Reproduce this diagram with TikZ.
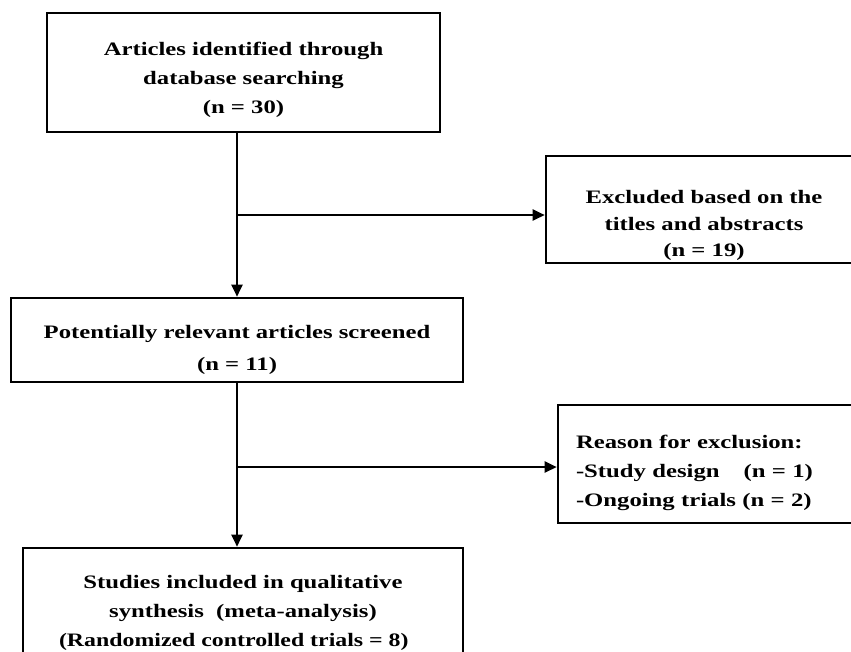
\documentclass[tikz,border=0pt]{standalone}
\usepackage{fontspec}
\setmainfont[FakeStretch=1.3]{Liberation Serif}
\newfontfamily\narrowserif[FakeStretch=1.255]{Liberation Serif}
\usetikzlibrary{arrows.meta}
\begin{document}
\begin{tikzpicture}[x=1pt,y=-1pt,
  box/.style={draw, line width=2.6pt, align=center, inner sep=0pt,
    font=\fontsize{19}{29}\selectfont\bfseries},
  flow/.style={line width=2.4pt, -{Triangle[length=12pt,width=11pt]}}]
\useasboundingbox (0,0) rectangle (851,651);
\clip (0,0) rectangle (851,651);
\node[box, minimum width=393pt, minimum height=119pt] (b1) at (243.5,72.5)
  {\rule{0pt}{29pt}Articles identified through\\database searching\\(n = 30)};
\node[box, minimum width=316pt, minimum height=107pt,
  font=\fontsize{19}{26.5}\selectfont\bfseries] (b2) at (704,209.5)
  {\rule{0pt}{46pt}Excluded based on the\\titles and abstracts\\(n = 19)};
\node[box, minimum width=452pt, minimum height=84pt,
  font=\fontsize{19}{32}\selectfont\bfseries] (b3) at (237,340)
  {\rule{0pt}{33pt}Potentially relevant articles screened\\(n = 11)};
\node[box, align=left, text width=280pt, inner xsep=18pt, minimum height=118pt] (b4) at (716,464)
  {\rule{0pt}{32pt}Reason for exclusion:\\-Study design\hspace{24pt}(n = 1)\\-Ongoing trials (n = 2)};
\node[box, minimum width=440pt, minimum height=130pt] (b5) at (243,613)
  {Studies included in qualitative\\synthesis\ \ (meta-analysis)\\\makebox[368pt][l]{\narrowserif\bfseries (Randomized controlled trials = 8)}};
\coordinate (j1) at (237,215);
\coordinate (j2) at (237,467);
\draw[flow] (b3.north |- b1.south) -- (b3.north);
\draw[flow] (j1) -- (j1 -| b2.west);
\draw[flow] (b3.south) -- (b3.south |- b5.north);
\draw[flow] (j2) -- (j2 -| b4.west);
\end{tikzpicture}
\end{document}
